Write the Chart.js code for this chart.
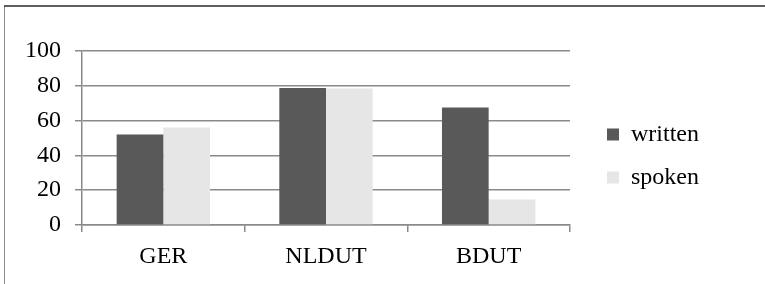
<!DOCTYPE html>
<html>
<head>
<meta charset="utf-8">
<script src="https://cdn.jsdelivr.net/npm/chart.js@4/dist/chart.umd.min.js"></script>
<style>
html,body{margin:0;padding:0;background:#fff;}
#wrap{position:relative;width:765px;height:284px;}
</style>
</head>
<body>
<div id="wrap"><canvas id="c" width="765" height="284"></canvas></div>
<script>
const categories = ["GER", "NLDUT", "BDUT"];
const written = [52, 78.7, 67.5];
const spoken = [56, 78.5, 14.6];
const yTicks = [0, 20, 40, 60, 80, 100];

const frame = {
  id: 'frame',
  beforeDraw(chart) {
    const ctx = chart.ctx;
    ctx.save();
    ctx.fillStyle = '#fff';
    ctx.fillRect(0, 0, chart.width, chart.height);
    ctx.strokeStyle = '#8a8a8a';
    ctx.lineWidth = 1;
    ctx.beginPath();
    ctx.moveTo(4.5, 6);
    ctx.lineTo(4.5, chart.height);
    ctx.stroke();
    ctx.strokeStyle = '#2a2a2a';
    ctx.lineWidth = 1.5;
    ctx.beginPath();
    ctx.moveTo(4, 6);
    ctx.lineTo(chart.width, 6);
    ctx.stroke();
    ctx.restore();
  }
};

const legendFix = {
  id: 'legendFix',
  beforeLayout(chart) {
    const lg = chart.legend;
    if (lg && !lg._patched) {
      const f = lg.fit;
      lg.fit = function () { f.call(this); this.width = 195; };
      lg._patched = true;
    }
  },
  afterLayout(chart) {
    const lg = chart.legend;
    if (!lg) return;
    lg.left += 18; lg.right += 18;
    lg.top -= 11.5; lg.bottom -= 11.5;
  }
};

const serif = "'Liberation Serif', 'Times New Roman', serif";
Chart.defaults.font.family = serif;
Chart.defaults.font.size = 24;
Chart.defaults.color = '#000';

function draw() {
  new Chart(document.getElementById('c'), {
    type: 'bar',
    data: {
      labels: categories,
      datasets: [
        { label: 'written', data: written, backgroundColor: '#595959', borderWidth: 0 },
        { label: 'spoken', data: spoken, backgroundColor: '#e6e6e6', borderWidth: 0 }
      ]
    },
    options: {
      responsive: false,
      animation: false,
      devicePixelRatio: 1,
      layout: { padding: { top: 51, bottom: 0, left: 0, right: 0 } },
      datasets: { bar: { categoryPercentage: 0.574, barPercentage: 1 } },
      plugins: {
        tooltip: { enabled: false },
        legend: {
          position: 'right',
          align: 'center',
          labels: {
            boxWidth: 12, boxHeight: 12, padding: 19, color: '#000',
            font: { family: serif, size: 24 }
          }
        }
      },
      scales: {
        x: {
          afterFit(s) { s.height = 59; },
          grid: { drawOnChartArea: false, color: '#8a8a8a', lineWidth: 1.5, tickLength: 7, offset: true },
          border: { color: '#8a8a8a', width: 1.5 },
          ticks: { color: '#000', font: { family: serif, size: 24 }, padding: 10, maxRotation: 0 }
        },
        y: {
          min: 0, max: 100,
          afterFit(s) { s.width = 82; },
          afterBuildTicks(s) { s.ticks = yTicks.map(v => ({ value: v })); },
          grid: { color: '#8a8a8a', lineWidth: 1.5, tickLength: 7 },
          border: { color: '#8a8a8a', width: 1.5 },
          ticks: { color: '#000', font: { family: serif, size: 24 }, padding: 14 }
        }
      }
    },
    plugins: [frame, legendFix]
  });
}

if (document.fonts && document.fonts.load) {
  document.fonts.load('24px "Liberation Serif"').then(draw, draw);
} else {
  draw();
}
</script>
</body>
</html>
